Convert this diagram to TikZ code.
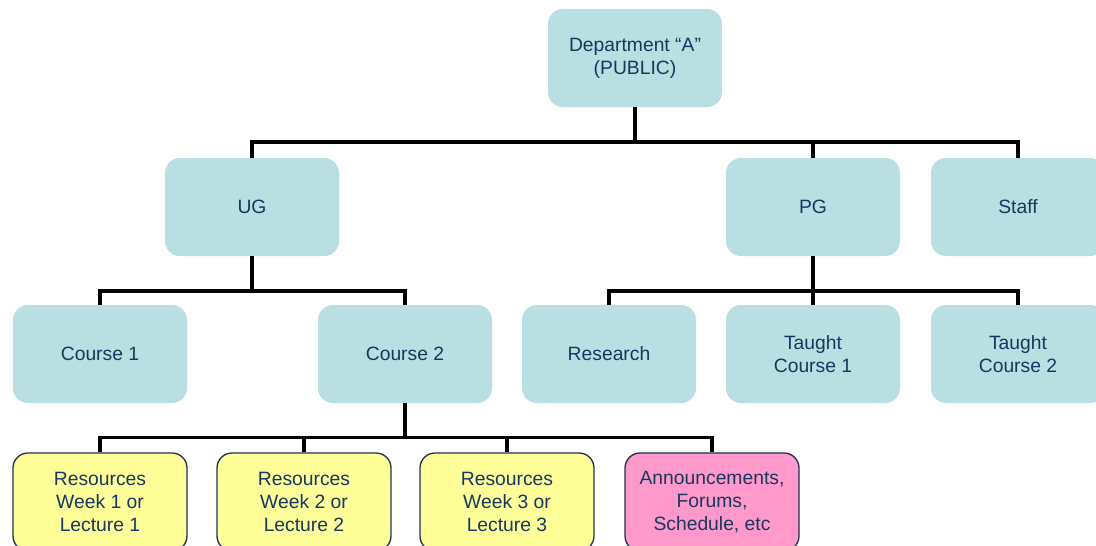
\documentclass[tikz,border=0pt]{standalone}
\usepackage{fontspec}
\setmainfont{Liberation Sans}
\definecolor{boxblue}{HTML}{B9DFE2}
\definecolor{boxyellow}{HTML}{FFFF99}
\definecolor{boxpink}{HTML}{FF99CC}
\definecolor{txtnavy}{HTML}{17375E}
\definecolor{edgenavy}{HTML}{1F3050}
\begin{document}
\begin{tikzpicture}[x=1pt,y=-1pt,
  box/.style={rectangle, rounded corners=15pt, minimum width=174pt, minimum height=98pt,
    inner sep=0pt, align=center, text=txtnavy, font=\fontsize{19.3}{23}\selectfont},
  bluebox/.style={box, fill=boxblue},
  yellowbox/.style={box, fill=boxyellow, draw=edgenavy, line width=1.3pt},
  pinkbox/.style={box, fill=boxpink, draw=edgenavy, line width=1.3pt},
  conn/.style={line width=3.6pt, black}]
\useasboundingbox (0,0) rectangle (1096,546);
\clip (0,0) rectangle (1096,546);
\node[bluebox] (dept) at (635,58) {Department “A”\\(PUBLIC)};
\node[bluebox] (ug) at (252,207) {UG};
\node[bluebox] (pg) at (813,207) {PG};
\node[bluebox] (staff) at (1018,207) {Staff};
\node[bluebox] (c1) at (100,354) {Course 1};
\node[bluebox] (c2) at (405,354) {Course 2};
\node[bluebox] (res) at (609,354) {Research};
\node[bluebox] (tc1) at (813,354) {Taught\\Course 1};
\node[bluebox] (tc2) at (1018,354) {Taught\\Course 2};
\node[yellowbox] (r1) at (100,502) {Resources\\Week 1 or\\Lecture 1};
\node[yellowbox] (r2) at (304,502) {Resources\\Week 2 or\\Lecture 2};
\node[yellowbox] (r3) at (507,502) {Resources\\Week 3 or\\Lecture 3};
\node[pinkbox] (ann) at (712,502) {Announcements,\\Forums,\\Schedule, etc};
% level 1
\draw[conn] (dept.south) -- ++(0,35);
\draw[conn] (ug.north) -- ++(0,-16) -| (staff.north);
\draw[conn] (pg.north) -- ++(0,-16);
% level 2
\draw[conn] (ug.south) -- ++(0,35);
\draw[conn] (c1.north) -- ++(0,-14) -| (c2.north);
\draw[conn] (pg.south) -- ++(0,35);
\draw[conn] (res.north) -- ++(0,-14) -| (tc2.north);
\draw[conn] (tc1.north) -- ++(0,-14);
% level 3
\draw[conn] (c2.south) -- ++(0,35);
\draw[conn] (r1.north) -- ++(0,-15) -| (ann.north);
\draw[conn] (r2.north) -- ++(0,-15);
\draw[conn] (r3.north) -- ++(0,-15);
\end{tikzpicture}
\end{document}
